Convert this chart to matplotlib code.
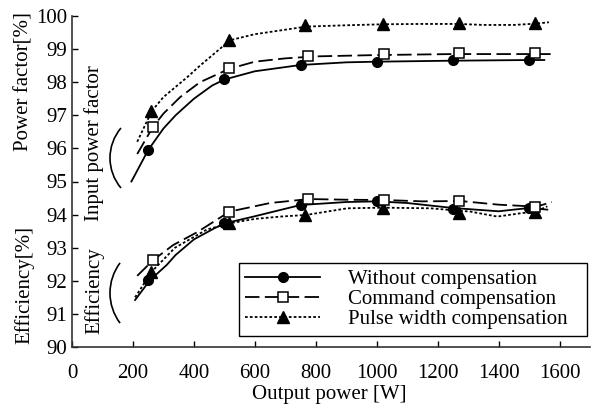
import matplotlib
matplotlib.use("Agg")
import matplotlib.pyplot as plt
from matplotlib.lines import Line2D
from matplotlib.patches import Arc

plt.rcParams['font.family'] = ['Liberation Serif', 'DejaVu Serif']

# measured points (markers)
x_wo = [250, 500, 750, 1000, 1250, 1500]
x_cmd = [265, 515, 775, 1025, 1270, 1520]
x_pw = [260, 515, 765, 1020, 1270, 1520]

pf_wo = [95.95, 98.10, 98.52, 98.62, 98.67, 98.67]
pf_cmd = [96.64, 98.44, 98.79, 98.85, 98.89, 98.87]
pf_pw = [97.13, 99.27, 99.73, 99.77, 99.78, 99.78]

eff_wo = [92.02, 93.74, 94.29, 94.41, 94.18, 94.21]
eff_cmd = [92.63, 94.09, 94.47, 94.44, 94.41, 94.24]
eff_pw = [92.28, 93.74, 93.99, 94.21, 94.06, 94.09]

# approximation curves
cx_pf_wo = [195, 250, 300, 340, 400, 460, 500, 600, 750, 900, 1000, 1250, 1500, 1550]
cy_pf_wo = [95.0, 95.95, 96.6, 97.0, 97.5, 97.9, 98.08, 98.33, 98.52, 98.6, 98.62, 98.65, 98.67, 98.67]
cx_pf_cmd = [214, 265, 300, 355, 420, 515, 600, 700, 800, 1000, 1250, 1400, 1580]
cy_pf_cmd = [95.83, 96.64, 97.05, 97.55, 98.0, 98.4, 98.62, 98.72, 98.78, 98.82, 98.85, 98.85, 98.85]
cx_pf_pw = [214, 262, 300, 378, 420, 519, 600, 769, 900, 1021, 1150, 1270, 1350, 1450, 1522, 1565]
cy_pf_pw = [96.2, 97.13, 97.55, 98.15, 98.5, 99.27, 99.45, 99.68, 99.72, 99.75, 99.76, 99.76, 99.73, 99.73, 99.77, 99.81]

cx_eff_wo = [207, 256, 311, 340, 400, 470, 503, 600, 750, 900, 1000, 1100, 1250, 1400, 1500, 1560]
cy_eff_wo = [91.42, 92.02, 92.48, 92.78, 93.25, 93.6, 93.74, 93.95, 94.29, 94.38, 94.4, 94.35, 94.2, 94.1, 94.2, 94.15]
cx_eff_cmd = [214, 267, 332, 411, 517, 650, 777, 900, 1029, 1150, 1275, 1400, 1524, 1575]
cy_eff_cmd = [92.15, 92.63, 93.08, 93.47, 94.09, 94.35, 94.47, 94.45, 94.44, 94.4, 94.41, 94.3, 94.24, 94.38]
cx_eff_pw = [207, 262, 338, 443, 519, 600, 684, 769, 903, 1021, 1176, 1308, 1396, 1472, 1522, 1560]
cy_eff_pw = [91.5, 92.28, 93.0, 93.55, 93.74, 93.87, 93.94, 93.99, 94.19, 94.21, 94.19, 94.09, 93.94, 94.04, 94.09, 94.25]

labels = ['Without compensation', 'Command compensation', 'Pulse width compensation']
xticks = [0, 200, 400, 600, 800, 1000, 1200, 1400, 1600]
yticks = [90, 91, 92, 93, 94, 95, 96, 97, 98, 99, 100]

W, H = 593, 408
fig = plt.figure(figsize=(W / 100, H / 100), dpi=100)
ax = fig.add_axes([72 / W, 1 - 347 / H, (590 - 72) / W, (347 - 16) / H])

ls_wo = dict(color='k', lw=1.3, ls='-')
ls_cmd = dict(color='k', lw=1.3, ls=(0, (8, 3)))
ls_pw = dict(color='k', lw=1.3, ls=(0, (1.5, 1.2)))
mk_wo = dict(marker='o', ms=7, mfc='k', mec='k')
mk_cmd = dict(marker='s', ms=6.5, mfc='white', mec='k', mew=1.1)
mk_pw = dict(marker='^', ms=8, mfc='k', mec='k')

ax.plot(cx_pf_wo, cy_pf_wo, **ls_wo)
ax.plot(cx_pf_cmd, cy_pf_cmd, **ls_cmd)
ax.plot(cx_pf_pw, cy_pf_pw, **ls_pw)
ax.plot(cx_eff_wo, cy_eff_wo, **ls_wo)
ax.plot(cx_eff_cmd, cy_eff_cmd, **ls_cmd)
ax.plot(cx_eff_pw, cy_eff_pw, **ls_pw)

ax.plot(x_wo, pf_wo, ls='none', zorder=3, **mk_wo)
ax.plot(x_wo, eff_wo, ls='none', zorder=3, **mk_wo)
ax.plot(x_pw, pf_pw, ls='none', zorder=3, **mk_pw)
ax.plot(x_pw, eff_pw, ls='none', zorder=3, **mk_pw)
ax.plot(x_cmd, pf_cmd, ls='none', zorder=4, **mk_cmd)
ax.plot(x_cmd, eff_cmd, ls='none', zorder=4, **mk_cmd)

# brackets, drawn in inches so they stay round
fig.add_artist(Arc((1.564, (H - 158) / 100), 0.928, 0.928, theta1=139.7, theta2=220.3,
                   color='k', lw=1.2, transform=fig.dpi_scale_trans))
fig.add_artist(Arc((1.60, (H - 293) / 100), 1.0, 1.0, theta1=143, theta2=217,
                   color='k', lw=1.2, transform=fig.dpi_scale_trans))

ax.set_xlim(0, 1700)
ax.set_ylim(90, 100)
ax.set_xticks(xticks)
ax.set_yticks(yticks)
ax.spines['top'].set_visible(False)
ax.spines['right'].set_visible(False)
for s in ('left', 'bottom'):
    ax.spines[s].set_linewidth(1.2)
    ax.spines[s].set_color('#333333')
ax.tick_params(direction='in', length=4, width=1, labelsize=15, colors='k')
ax.tick_params(axis='x', pad=12)
ax.tick_params(axis='y', pad=3.5)

fig.text(24 / W, 1 - 82 / H, 'Power factor[%]', rotation=90, ha='center', va='center', fontsize=15)
fig.text(24 / W, 1 - 285 / H, 'Efficiency[%]', rotation=90, ha='center', va='center', fontsize=15)
fig.text(94 / W, 1 - 143 / H, 'Input power factor', rotation=90, ha='center', va='center', fontsize=15)
fig.text(94 / W, 1 - 291 / H, 'Efficiency', rotation=90, ha='center', va='center', fontsize=15)
fig.text(329 / W, 1 - 394 / H, 'Output power [W]', ha='center', va='center', fontsize=15)

handles = [Line2D([], [], **ls_wo, **mk_wo),
           Line2D([], [], **ls_cmd, **mk_cmd),
           Line2D([], [], **ls_pw, **mk_pw)]
leg = fig.legend(handles, labels, loc='upper left',
                 bbox_to_anchor=(239 / W, 1 - 331 / H, (587 - 239) / W, (331 - 263) / H),
                 mode='expand', fontsize=15, numpoints=1, handlelength=3.6, handletextpad=1.35,
                 labelspacing=0.03, borderpad=0.3, borderaxespad=0,
                 fancybox=False, framealpha=1, edgecolor='k')
leg.get_frame().set_linewidth(1.0)

fig.savefig('out.png', dpi=100)
